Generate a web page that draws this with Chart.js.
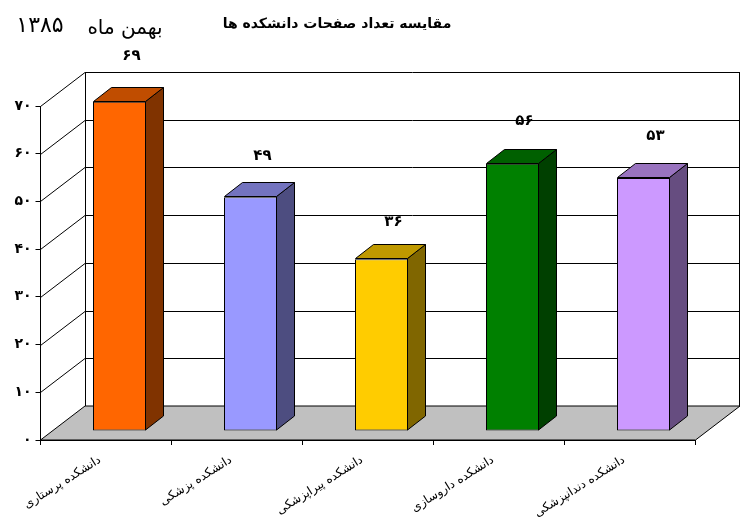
<!DOCTYPE html>
<html>
<head>
<meta charset="utf-8">
<style>
html, body { margin: 0; padding: 0; background: #fff; }
canvas { display: block; }
</style>
<script src="https://cdn.jsdelivr.net/npm/chart.js@4/dist/chart.umd.min.js"></script>
</head>
<body>
<canvas id="grafico" width="750" height="518"></canvas>
<script>
const categorias = ['دانشکده پرستاری', 'دانشکده پزشکی', 'دانشکده پیراپزشکی', 'دانشکده داروسازی', 'دانشکده دندانپزشکی']
const valores = [69, 49, 36, 56, 53]
const rotulos = ['۶۹', '۴۹', '۳۶', '۵۶', '۵۳']
const ticksY = ['۰', '۱۰', '۲۰', '۳۰', '۴۰', '۵۰', '۶۰', '۷۰']
const titulo = 'مقایسه تعداد صفحات دانشکده ها'
const mes = 'بهمن ماه'
const ano = '۱۳۸۵'

const corFrente = ['#ff6600', '#9999ff', '#ffcc00', '#008000', '#cc99ff']
const corLado = ['#803300', '#4d4d80', '#806600', '#004000', '#664d80']
const corTopo = ['#c04d00', '#7373bf', '#bf9900', '#006000', '#9973bf']

const fonte = '"DejaVu Sans"'
// profundidade da caixa 3D e das barras, em pixels
const caixaX = 44.5, caixaY = -34
const barraX = 13.5, barraY = -9
const ladoX = 18, ladoY = -14

function poligono(ctx, pts, cor) {
    ctx.beginPath()
    ctx.moveTo(pts[0][0], pts[0][1])
    for (let i = 1; i < pts.length; i++) ctx.lineTo(pts[i][0], pts[i][1])
    ctx.closePath()
    if (cor) {
        ctx.fillStyle = cor
        ctx.fill()
    }
    ctx.stroke()
}

const caixa3d = {
    id: 'caixa3d',
    beforeDraw(chart) {
        const ctx = chart.ctx, y = chart.scales.y, a = chart.chartArea
        const l = a.left, r = a.right, b = a.bottom
        ctx.save()
        ctx.strokeStyle = '#000'
        ctx.lineWidth = 1
        // chao
        poligono(ctx, [[l, b], [r, b], [r + caixaX, b + caixaY], [l + caixaX, b + caixaY]], '#c0c0c0')
        // linhas de grade nas paredes
        for (let v = 10; v <= 70; v += 10) {
            const p = Math.round(y.getPixelForValue(v)) + 0.5
            ctx.beginPath()
            ctx.moveTo(l, p)
            ctx.lineTo(l + caixaX, p + caixaY)
            ctx.lineTo(r + caixaX, p + caixaY)
            ctx.stroke()
        }
        ctx.beginPath()
        ctx.moveTo(Math.round(l + caixaX) + 0.5, b + caixaY)
        ctx.lineTo(Math.round(l + caixaX) + 0.5, y.getPixelForValue(70) + caixaY)
        ctx.moveTo(Math.round(r + caixaX) - 0.5, b + caixaY)
        ctx.lineTo(Math.round(r + caixaX) - 0.5, y.getPixelForValue(70) + caixaY)
        ctx.stroke()
        ctx.restore()
    },
    beforeDatasetsDraw(chart) {
        chart.ctx.save()
        chart.ctx.translate(barraX, barraY)
    },
    afterDatasetsDraw(chart) {
        const ctx = chart.ctx
        ctx.restore()
        ctx.save()
        ctx.strokeStyle = '#000'
        ctx.lineWidth = 1
        chart.getDatasetMeta(0).data.forEach((bar, i) => {
            const x0 = bar.x - bar.width / 2 + barraX + 0.5
            const x1 = bar.x + bar.width / 2 + barraX - 0.5
            const t = Math.floor(bar.y + barraY - 0.5) + 0.5
            const b = bar.base + barraY - 0.5
            poligono(ctx, [[x1, t], [x1 + ladoX, t + ladoY], [x1 + ladoX, b + ladoY], [x1, b]], corLado[i])
            poligono(ctx, [[x0, t], [x0 + ladoX, t + ladoY], [x1 + ladoX, t + ladoY], [x1, t]], corTopo[i])
            ctx.fillStyle = '#000'
            ctx.font = 'bold 15px ' + fonte
            ctx.textAlign = 'center'
            ctx.textBaseline = 'middle'
            ctx.fillText(rotulos[i], bar.x + barraX + 12, bar.y + barraY - 28 - 0.26 * valores[i])
        })
        ctx.restore()
    },
    afterDraw(chart) {
        const ctx = chart.ctx
        ctx.save()
        ctx.fillStyle = '#000'
        ctx.textBaseline = 'middle'
        ctx.textAlign = 'center'
        ctx.font = 'bold 14px ' + fonte
        ctx.fillText(titulo, 337, 24)
        ctx.font = '20px ' + fonte
        ctx.fillText(mes, 125, 29)
        ctx.font = '22px ' + fonte
        ctx.fillText(ano, 40, 26)
        ctx.restore()
    }
}

new Chart(document.getElementById('grafico'), {
    type: 'bar',
    data: {
        labels: categorias,
        datasets: [{
            data: valores,
            backgroundColor: corFrente,
            borderColor: '#000',
            borderWidth: 1,
            borderSkipped: false,
            barPercentage: 53 / 131,
            categoryPercentage: 1
        }]
    },
    options: {
        responsive: false,
        animation: false,
        devicePixelRatio: 1,
        layout: { padding: { top: 106, right: 54.5, left: 0, bottom: 0 } },
        plugins: { legend: { display: false }, tooltip: { enabled: false } },
        scales: {
            x: {
                afterFit(s) { s.height = 78 },
                border: { color: '#000', width: 1 },
                grid: { drawOnChartArea: false, color: '#000', tickLength: 5 },
                ticks: {
                    color: '#000',
                    font: { family: fonte, size: 12 },
                    minRotation: 32,
                    maxRotation: 32,
                    autoSkip: false,
                    padding: 8,
                    labelOffset: -6
                }
            },
            y: {
                min: 0,
                max: 70,
                afterFit(s) { s.width = 40.5 },
                border: { color: '#000', width: 1 },
                grid: { drawOnChartArea: false, color: '#000', tickLength: 5 },
                ticks: {
                    stepSize: 10,
                    color: '#000',
                    font: { family: fonte, size: 14, weight: 'bold' },
                    padding: 4,
                    callback: (v, i) => ticksY[i]
                }
            }
        }
    },
    plugins: [caixa3d]
})
</script>
</body>
</html>
